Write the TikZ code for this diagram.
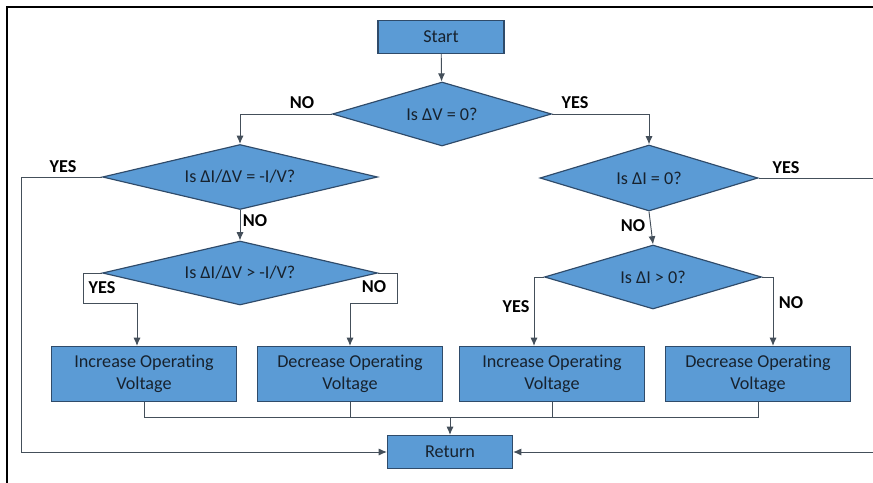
\documentclass[tikz,border=0pt]{standalone}
\usepackage{fontspec}
\setmainfont{Carlito}[Ligatures=NoCommon]
\usetikzlibrary{arrows.meta,shapes.geometric,positioning,calc}
\definecolor{boxblue}{HTML}{5B9BD5}
\definecolor{boxedge}{HTML}{2F4B6A}
\definecolor{linecol}{HTML}{444F5A}
\definecolor{txtcol}{HTML}{17222E}

\begin{document}
\begin{tikzpicture}[x=0.03cm,y=-0.03cm,
    font=\fontsize{15.5}{19}\selectfont,
    block/.style={rectangle,draw=boxedge,line width=1pt,fill=boxblue,text=txtcol,align=center,inner sep=0pt},
    opbox/.style={block,minimum width=5.55cm,minimum height=1.65cm},
    decision/.style={diamond,draw=boxedge,line width=1pt,fill=boxblue,text=txtcol,inner sep=0pt,aspect=3.4},
    line/.style={draw=linecol,line width=0.8pt},
    arr/.style={line,-{Latex[length=7pt,width=6pt]}},
    lbl/.style={font=\fontsize{15.5}{19}\selectfont\bfseries,text=black}]
    \useasboundingbox (0,0) rectangle (873,483);
    \clip (0,0) rectangle (873,483);
    % frame
    \draw[line width=1pt] (7,483) -- (7,7) -- (873,7);

    \node[block,minimum width=3.78cm,minimum height=0.99cm] (start) at (441,37) {Start};
    \node[decision,minimum width=6.57cm,minimum height=1.92cm] (dv) at (442,114) {Is ΔV = 0?};
    \node[decision,minimum width=8.25cm,minimum height=1.95cm] (didv) at (240,177) {Is ΔI/ΔV = -I/V?};
    \node[decision,minimum width=6.54cm,minimum height=1.98cm] (di) at (649,178) {Is ΔI = 0?};
    \node[decision,minimum width=8.25cm,minimum height=1.92cm] (didvgt) at (240,273) {Is ΔI/ΔV > -I/V?};
    \node[decision,minimum width=6.51cm,minimum height=1.92cm] (digt) at (653,277) {Is ΔI > 0?};

    \node[opbox] (incl) at (144,374) {Increase Operating\\Voltage};
    \node[opbox] (decl) at (350,374) {Decrease Operating\\Voltage};
    \node[opbox] (incr) at (552,374) {Increase Operating\\Voltage};
    \node[opbox] (decr) at (758,374) {Decrease Operating\\Voltage};
    \node[block,minimum width=3.75cm,minimum height=0.99cm] (ret) at (450,452) {Return};

    \coordinate (lc) at (21,452);
    \coordinate (rc) at (890,452);
    \coordinate (yl) at (83,303);
    \coordinate (nr) at (397,303);
    \coordinate (mrg) at (450,417);

    % decisions
    \draw[arr] (start) -- (dv);
    \draw[arr] (dv.west) -| (didv.north);
    \draw[arr] (dv.east) -| (di.north);
    \draw[arr] (didv.south) -- (didvgt.north);
    \draw[arr] (di.south) -- (digt.north);
    \draw[arr] (didv.west) -| (lc) -- (ret.west);
    \draw[arr] (di.east) -| (rc) -- (ret.east);
    \draw[arr] (didvgt.west) -| (yl) -| ($(incl.north)+(-7,0)$);
    \draw[arr] (didvgt.east) -| (nr) -| (decl.north);
    \draw[arr] (digt.west) -| ($(incr.north)+(-18,0)$);
    \draw[arr] (digt.east) -| ($(decr.north)+(15,0)$);

    % merge into return
    \draw[line] (incl.south) -- (incl.south |- mrg) -- (decr.south |- mrg) -- (decr.south);
    \draw[line] (decl.south) -- (decl.south |- mrg);
    \draw[line] (incr.south) -- (incr.south |- mrg);
    \draw[arr] (mrg) -- (ret.north);

    % labels
    \node[lbl] (no1) at (302,103) {NO};
    \node[lbl] (yes1) at (575,103) {YES};
    \node[lbl] (yes2) at (63,167) {YES};
    \node[lbl] (no2) at (255,221) {NO};
    \node[lbl] (yes3) at (786,168) {YES};
    \node[lbl] (no3) at (633,226) {NO};
    \node[lbl] (yes4) at (102,288) {YES};
    \node[lbl] (no4) at (374,287) {NO};
    \node[lbl] (yes5) at (516,307) {YES};
    \node[lbl] (no5) at (791,303) {NO};
\end{tikzpicture}
\end{document}
